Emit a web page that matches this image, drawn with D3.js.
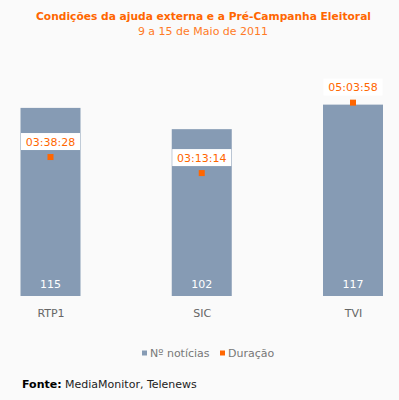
<!DOCTYPE html>
<html><head><meta charset="utf-8">
<script src="https://cdn.jsdelivr.net/npm/d3@7"></script>
<style>
html,body{margin:0;padding:0;background:#fafafa;}
svg{display:block;font-family:"DejaVu Sans",Verdana,sans-serif;}
</style></head><body>
<div id="chart"></div>
<script>
const categories = ["RTP1", "SIC", "TVI"];
const noticias = [115, 102, 117];
const duracao = ["03:38:28", "03:13:14", "05:03:58"];
const seriesNames = ["Nº notícias", "Duração"];

const W = 399, H = 400;
const barColor = "#869bb4", orange = "#ff6600";
const toSec = s => { const [h,m,x] = s.split(":").map(Number); return h*3600+m*60+x; };

const svg = d3.select("#chart").append("svg").attr("width", W).attr("height", H);
svg.append("rect").attr("width", W).attr("height", H).attr("fill", "#fafafa");

svg.append("text").attr("x", 203.5).attr("y", 20).attr("text-anchor", "middle")
  .attr("font-size", 11).attr("font-weight", "bold").attr("fill", orange)
  .attr("textLength", 335).attr("lengthAdjust", "spacingAndGlyphs")
  .text("Condições da ajuda externa e a Pré-Campanha Eleitoral");
svg.append("text").attr("x", 203).attr("y", 35).attr("text-anchor", "middle")
  .attr("font-size", 11).attr("fill", "#ff7a26")
  .text("9 a 15 de Maio de 2011");

const x = d3.scalePoint().domain(categories).range([50.5, 353]);
const y = d3.scaleLinear().domain([0, 140]).range([296, 67]);
const y2 = d3.scaleLinear().domain([0, 21600]).range([296, 67]);
const bw = 60;

const g = svg.append("g");
g.selectAll("rect.bar").data(categories).join("rect").attr("class", "bar")
  .attr("x", d => x(d) - bw/2).attr("width", bw)
  .attr("y", (d,i) => y(noticias[i])).attr("height", (d,i) => y(0) - y(noticias[i]))
  .attr("fill", barColor);

g.selectAll("text.val").data(categories).join("text").attr("class", "val")
  .attr("x", d => x(d)).attr("y", 288).attr("text-anchor", "middle")
  .attr("font-size", 11).attr("fill", "#fff")
  .text((d,i) => noticias[i]);

// duration markers
g.selectAll("rect.mk").data(categories).join("rect").attr("class", "mk")
  .attr("x", d => x(d) - 3).attr("y", (d,i) => y2(toSec(duracao[i])) - 3)
  .attr("width", 6).attr("height", 6).attr("fill", orange);

g.selectAll("rect.lblbox").data(categories).join("rect").attr("class", "lblbox")
  .attr("x", d => x(d) - 29.5).attr("width", 59)
  .attr("y", (d,i) => y2(toSec(duracao[i])) - 24).attr("height", 17)
  .attr("fill", "#fff");
g.selectAll("text.dur").data(categories).join("text").attr("class", "dur")
  .attr("x", d => x(d)).attr("y", (d,i) => y2(toSec(duracao[i])) - 11.5)
  .attr("text-anchor", "middle").attr("font-size", 11).attr("fill", orange)
  .text((d,i) => duracao[i]);

// category axis
const xAxis = d3.axisBottom(x).tickSize(0).tickPadding(0);
const ax = svg.append("g").attr("transform", "translate(0,309)").call(xAxis);
ax.select(".domain").remove();
ax.selectAll("text").attr("font-size", 11).attr("fill", "#666")
  .attr("font-family", "DejaVu Sans, Verdana, sans-serif");

// legend
const lg = svg.append("g");
lg.append("rect").attr("x", 142).attr("y", 350.5).attr("width", 5).attr("height", 5).attr("fill", barColor);
lg.append("text").attr("x", 150).attr("y", 357).attr("font-size", 11).attr("fill", "#777").text(seriesNames[0]);
lg.append("rect").attr("x", 220).attr("y", 350.5).attr("width", 5).attr("height", 5).attr("fill", orange);
lg.append("text").attr("x", 228).attr("y", 357).attr("font-size", 11).attr("fill", "#777").text(seriesNames[1]);

const src = svg.append("text").attr("x", 22).attr("y", 388).attr("font-size", 11).attr("fill", "#000");
src.append("tspan").attr("font-weight", "bold").text("Fonte:");
src.append("tspan").attr("fill", "#222").text(" MediaMonitor, Telenews");
</script>
</body></html>
